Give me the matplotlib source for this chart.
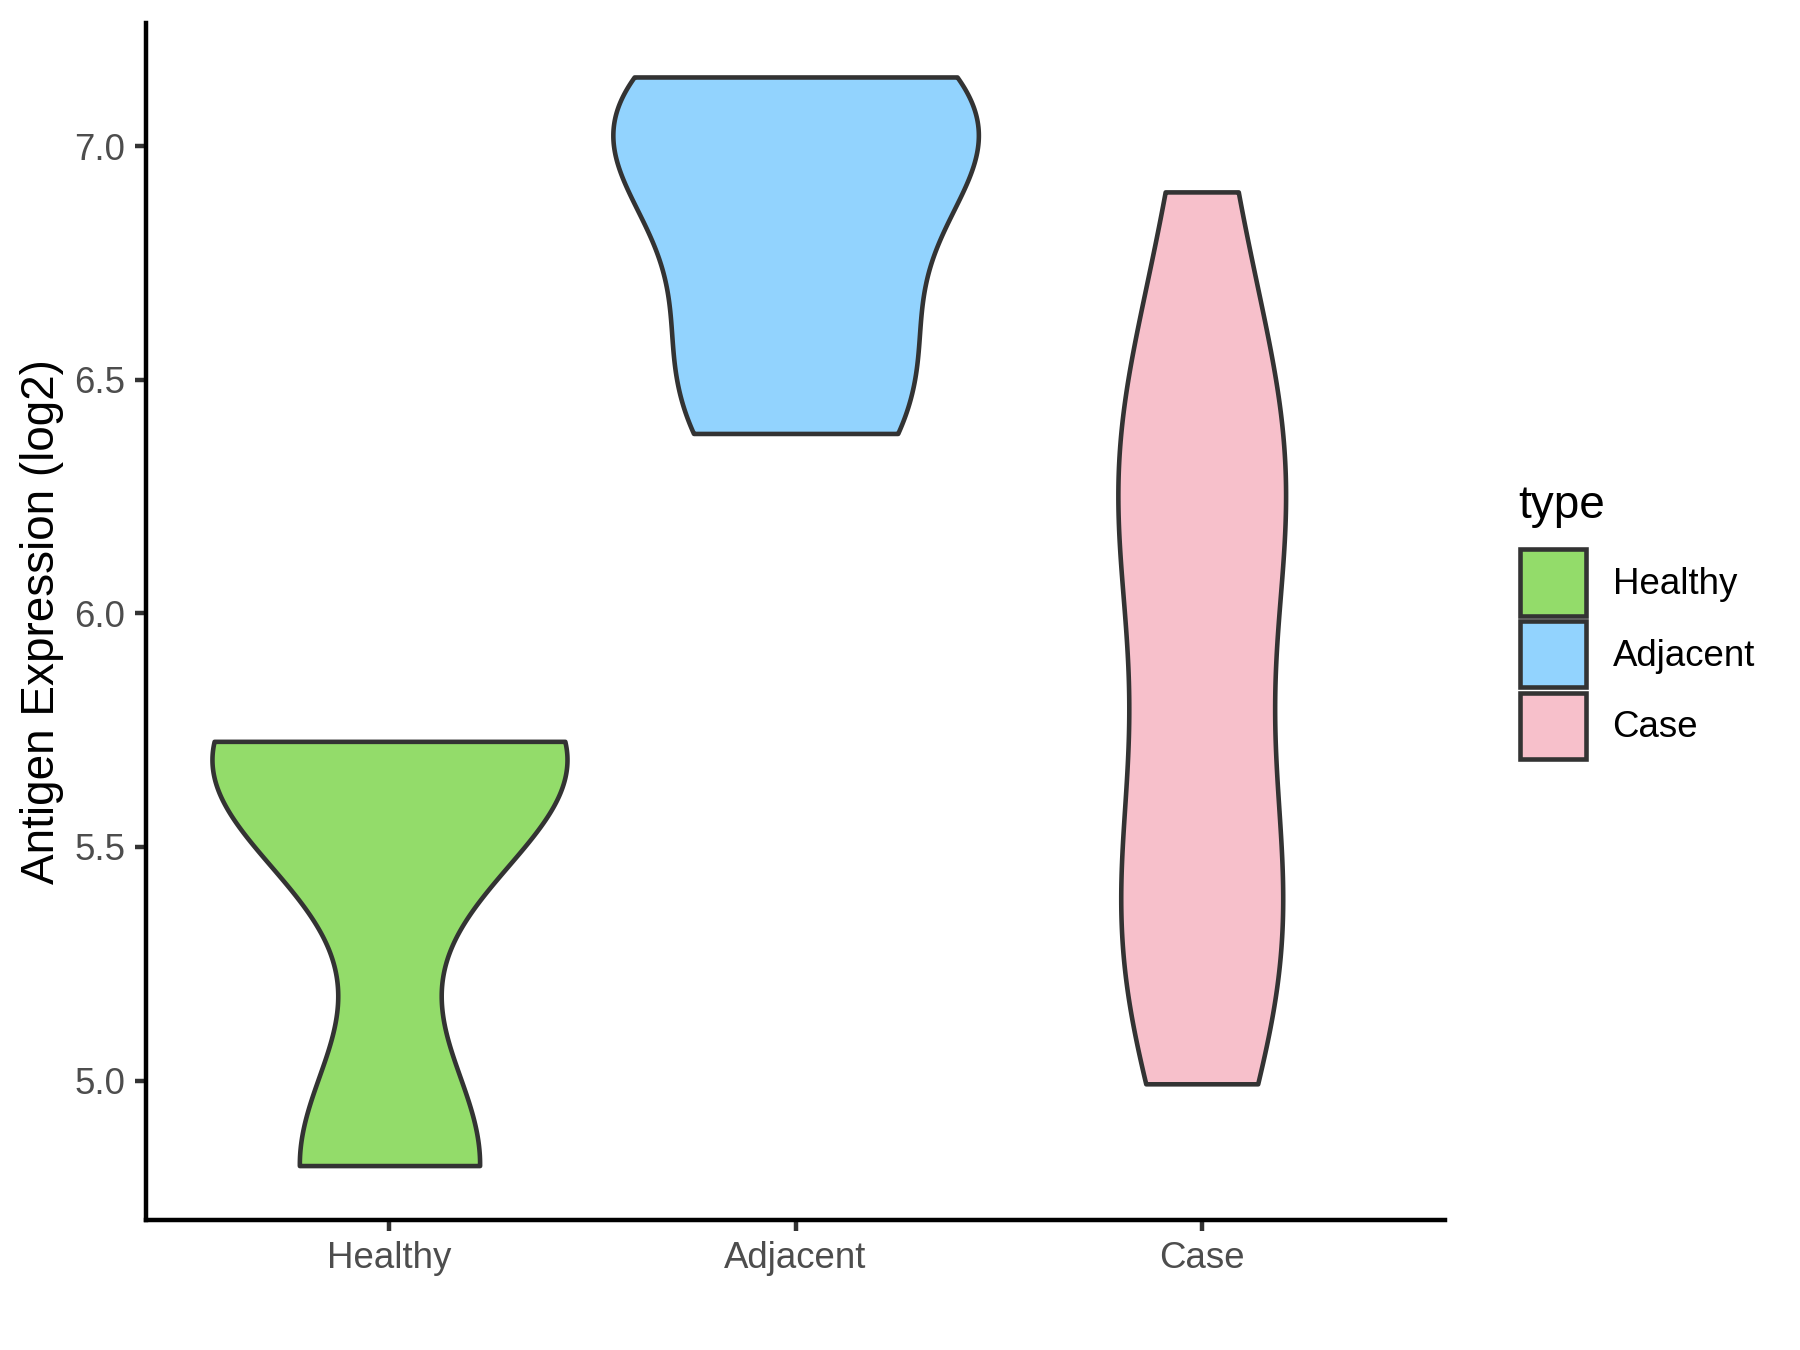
import matplotlib
matplotlib.use('Agg')
import matplotlib.pyplot as plt
from matplotlib import cbook, mlab
from matplotlib.patches import Patch
import numpy as np

plt.rcParams['font.family'] = ['Liberation Sans', 'DejaVu Sans']

# values (log2 antigen expression per sample)
groups = ['Healthy', 'Adjacent', 'Case']
healthy = [4.818, 5.65, 5.726]
adjacent = [6.385, 6.6, 6.95, 7.05, 7.148]
case = [4.993, 5.2, 5.33, 5.42, 5.55, 5.95, 6.2, 6.28, 6.36, 6.48, 6.902]
colors = ['#93DC6A', '#92D3FE', '#F7C0CB']
yticks = [5.0, 5.5, 6.0, 6.5, 7.0]


def nrd0(kde):
    # R's default bandwidth (bw.nrd0), as factor of the sample sd
    x = kde.dataset.ravel()
    sd = np.std(x, ddof=1)
    iqr = np.subtract(*np.percentile(x, [75, 25]))
    h = 0.9 * min(sd, iqr / 1.34) * len(x) ** -0.2
    return h / sd


def kde_method(x, coords):
    return mlab.GaussianKDE(x, bw_method=nrd0).evaluate(coords)


data = [healthy, adjacent, case]
stats = cbook.violin_stats(data, kde_method, points=512)
peak = [s['vals'].max() for s in stats]
widths = [0.9 * p / max(peak) for p in peak]  # scale="area"

fig = plt.figure(figsize=(6, 4.5), dpi=300)
ax = fig.add_axes([0.081, 0.0963, 0.722, 0.887])

parts = ax.violin(stats, positions=[1, 2, 3], widths=widths, showextrema=False)
for body, c in zip(parts['bodies'], colors):
    body.set_facecolor(c)
    body.set_edgecolor('#333333')
    body.set_linewidth(1.1)
    body.set_alpha(1)

lo = min(min(d) for d in data)
hi = max(max(d) for d in data)
pad = 0.05 * (hi - lo)
ax.set_ylim(lo - pad, hi + pad)
ax.set_xlim(0.4, 3.6)

ax.set_xticks([1, 2, 3])
ax.set_xticklabels(groups)
ax.set_yticks(yticks)
ax.set_yticklabels(['%.1f' % v for v in yticks])
ax.tick_params(colors='#333333', labelcolor='#4D4D4D', labelsize=8.8,
               length=2.75, width=1.07, pad=2.2)
for s in ['top', 'right']:
    ax.spines[s].set_visible(False)
for s in ['left', 'bottom']:
    ax.spines[s].set_linewidth(1.07)
    ax.spines[s].set_color('black')

ax.set_ylabel('Antigen Expression (log2)', fontsize=11, color='black', labelpad=2.5)

# legend
fig.text(0.8435, 0.6165, 'type', fontsize=11, va='baseline', ha='left')
handles = [Patch(facecolor=c, edgecolor='#333333', linewidth=1.1, label=g)
           for g, c in zip(groups, colors)]
fig.legend(handles=handles, loc='upper left', bbox_to_anchor=(0.8445, 0.593),
           frameon=False, fontsize=8.8, handlelength=1.8, handleheight=2.4,
           labelspacing=0.15, handletextpad=0.72, borderpad=0, borderaxespad=0)

fig.savefig('out.png', dpi=300)
